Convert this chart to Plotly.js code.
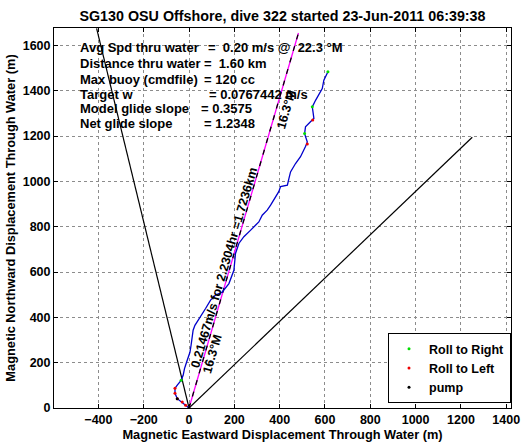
<!DOCTYPE html>
<html>
<head>
<meta charset="utf-8">
<script src="https://cdn.plot.ly/plotly-3.0.1.min.js"></script>
<style>
  html, body { margin: 0; padding: 0; background: #fff; }
  #chart { width: 525px; height: 442px; }
</style>
</head>
<body>
<div id="chart"></div>
<script>
// ---- Data (metres) ----
const trackX = [0, -15, -30, -52, -62, -62, -51, -35, -26, -20, -11, -4, 4, 9, 13, 18, 26, 38, 51, 73, 95, 117, 147, 176, 198, 205, 220, 242, 272, 286, 308, 323, 345, 360, 382, 396, 404, 434, 441, 448, 470, 492, 514, 522, 510, 514, 536, 551, 547, 544, 559, 573, 588, 595, 603, 613];
const trackY = [0, 12, 26, 41, 65, 87, 102, 122, 144, 174, 202, 224, 246, 277, 312, 343, 365, 383, 403, 439, 476, 498, 512, 549, 608, 682, 726, 756, 785, 799, 821, 851, 873, 895, 933, 955, 977, 983, 1013, 1042, 1079, 1109, 1154, 1174, 1211, 1241, 1263, 1278, 1308, 1329, 1359, 1381, 1410, 1447, 1461, 1484];

const rollRightX = [-35, 510, 544, 613];
const rollRightY = [122, 1211, 1329, 1484];
const rollLeftX = [-15, -30, -52, -62, -62, 522, 546];
const rollLeftY = [12, 26, 41, 65, 87, 1165, 1271];
const pumpX = [0, -52];
const pumpY = [0, 41];

const headingX = [0, 483];
const headingY = [0, 1655];
const wedgeLeftX = [0, -408];
const wedgeLeftY = [0, 1675];
const wedgeRightX = [0, 1250];
const wedgeRightY = [0, 1195];

const xTicks = [-400, -200, 0, 200, 400, 600, 800, 1000, 1200, 1400];
const yTicks = [0, 200, 400, 600, 800, 1000, 1200, 1400, 1600];

const infoLabels = ["Avg Spd thru water", "Distance thru water", "Max buoy (cmdfile)", "Target w", "Model glide slope", "Net glide slope"];
const infoValues = ["=\u00a0 0.20 m/s @\u00a0 22.3 \u00b0M", "=\u00a0 1.60 km", "= 120 cc", "= 0.0767442 m/s", "= 0.3575", "= 1.2348"];

const headingLabel = "0.21467m/s for 2.2304hr =1.7236km";
const headingDeg = "16.3\u00b0M";

// ---- layout helpers ----
const FONT = '"Liberation Sans", Arial, Helvetica, sans-serif';
const infoRowY = [1590, 1520, 1451, 1385, 1322, 1256];
const infoValX = [76, 56, 58, 80, 43, 58];

const traces = [
  {x: wedgeLeftX, y: wedgeLeftY, mode: 'lines', line: {color: '#000', width: 1.2}, showlegend: false, hoverinfo: 'skip'},
  {x: wedgeRightX, y: wedgeRightY, mode: 'lines', line: {color: '#000', width: 1.2}, showlegend: false, hoverinfo: 'skip'},
  {x: headingX, y: headingY, mode: 'lines', line: {color: '#ff00ff', width: 1.3}, showlegend: false, hoverinfo: 'skip'},
  {x: headingX, y: headingY, mode: 'lines', line: {color: '#000', width: 1.3, dash: '5px,7px'}, showlegend: false, hoverinfo: 'skip'},
  {x: trackX, y: trackY, mode: 'lines', line: {color: '#0000cc', width: 1.3}, showlegend: false},
  {x: rollRightX, y: rollRightY, mode: 'markers', name: 'Roll to Right', marker: {color: '#00dd00', size: 3}},
  {x: rollLeftX, y: rollLeftY, mode: 'markers', name: 'Roll to Left', marker: {color: '#ee0000', size: 3}},
  {x: pumpX, y: pumpY, mode: 'markers', name: 'pump', marker: {color: '#000', size: 3}}
];

const annotations = [];
infoLabels.forEach((t, i) => {
  annotations.push({x: -492, y: infoRowY[i], xref: 'x', yref: 'y', text: t, showarrow: false,
    xanchor: 'left', yanchor: 'middle', font: {family: FONT, size: 13, color: '#000', weight: 'bold'}});
  annotations.push({x: infoValX[i], y: infoRowY[i], xref: 'x', yref: 'y', text: infoValues[i], showarrow: false,
    xanchor: 'left', yanchor: 'middle', font: {family: FONT, size: 13, color: '#000', weight: 'bold'}});
});
annotations.push({x: 154, y: 619, xref: 'x', yref: 'y', text: headingLabel, textangle: -73.7, showarrow: false,
  xanchor: 'center', yanchor: 'middle', font: {family: FONT, size: 12.5, color: '#000', weight: 'bold'}});
annotations.push({x: 104, y: 237, xref: 'x', yref: 'y', text: headingDeg, textangle: -73.7, showarrow: false,
  xanchor: 'center', yanchor: 'middle', font: {family: FONT, size: 12.5, color: '#000', weight: 'bold'}});
annotations.push({x: 430, y: 1320, xref: 'x', yref: 'y', text: headingDeg, textangle: -73.7, showarrow: false,
  xanchor: 'center', yanchor: 'middle', font: {family: FONT, size: 12.5, color: '#000', weight: 'bold'}});

const axisCommon = {
  showline: true, linecolor: '#000', linewidth: 1, mirror: 'allticks',
  ticks: 'inside', ticklen: 4, tickwidth: 1, tickcolor: '#000',
  showgrid: true, gridcolor: '#8c8c8c', griddash: 'dot', gridwidth: 1,
  zeroline: false, tickfont: {family: FONT, size: 12.5, color: '#000', weight: 'bold'}
};

const layout = {
  width: 525, height: 442,
  margin: {l: 54, r: 14, t: 28, b: 34},
  paper_bgcolor: '#fff', plot_bgcolor: '#fff',
  title: {text: 'SG130 OSU Offshore, dive 322 started 23-Jun-2011 06:39:38',
    font: {family: FONT, size: 14.3, color: '#000', weight: 'bold'}, x: 0.5, xref: 'paper', y: 0.963, yanchor: 'middle'},
  xaxis: Object.assign({}, axisCommon, {range: [-596, 1421], tickmode: 'array', tickvals: xTicks,
    title: {text: 'Magnetic Eastward Displacement Through Water (m)', font: {family: FONT, size: 12.8, color: '#000', weight: 'bold'}, standoff: 0}}),
  yaxis: Object.assign({}, axisCommon, {range: [0, 1677], tickmode: 'array', tickvals: yTicks,
    title: {text: 'Magnetic Northward Displacement Through Water (m)', font: {family: FONT, size: 12.8, color: '#000', weight: 'bold'}, standoff: 4}}),
  legend: {x: 1, xanchor: 'right', y: 0.013, yanchor: 'bottom', bgcolor: '#fff', bordercolor: '#000', borderwidth: 1,
    font: {family: FONT, size: 12.5, color: '#000', weight: 'bold'}, tracegroupgap: 0},
  annotations: annotations,
  showlegend: true
};

Plotly.newPlot('chart', traces, layout, {displayModeBar: false, staticPlot: true});
</script>
</body>
</html>
